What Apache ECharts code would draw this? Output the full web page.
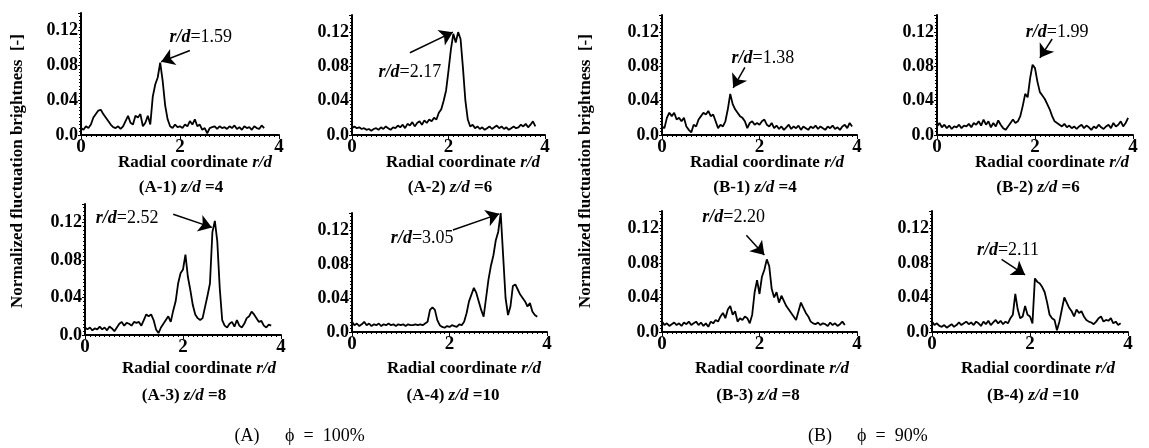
<!DOCTYPE html>
<html>
<head>
<meta charset="utf-8">
<script src="https://cdn.jsdelivr.net/npm/echarts@6/dist/echarts.min.js"></script>
<style>
  html, body { margin: 0; padding: 0; background: #fff; }
  #main { width: 1149px; height: 448px; }
</style>
</head>
<body>
<div id="main"></div>
<script>
// radial coordinate r/d (sampling positions)
var rd = [0.00,0.05,0.10,0.15,0.20,0.25,0.30,0.35,0.40,0.45,
          0.50,0.55,0.60,0.65,0.70,0.75,0.80,0.85,0.90,0.95,
          1.00,1.05,1.10,1.15,1.20,1.25,1.30,1.35,1.40,1.45,
          1.50,1.55,1.60,1.65,1.70,1.75,1.80,1.85,1.90,1.95,
          2.00,2.05,2.10,2.15,2.20,2.25,2.30,2.35,2.40,2.45,
          2.50,2.55,2.60,2.65,2.70,2.75,2.80,2.85,2.90,2.95,
          3.00,3.05,3.10,3.15,3.20,3.25,3.30,3.35,3.40,3.45,
          3.50,3.55,3.60,3.65,3.70,3.75,3.80,3.85,3.90];

// normalized fluctuation brightness, phi = 100%
var a1 = [0.008,0.006,0.010,0.008,0.012,0.020,0.024,0.028,0.029,0.024,
          0.020,0.016,0.012,0.009,0.008,0.010,0.007,0.010,0.016,0.022,
          0.014,0.012,0.022,0.020,0.024,0.010,0.014,0.022,0.012,0.044,
          0.058,0.066,0.083,0.062,0.034,0.018,0.010,0.008,0.012,0.009,
          0.010,0.008,0.012,0.010,0.016,0.012,0.018,0.010,0.012,0.006,
          0.008,0.002,0.008,0.009,0.010,0.007,0.010,0.008,0.009,0.007,
          0.010,0.008,0.011,0.007,0.009,0.006,0.010,0.008,0.009,0.006,
          0.010,0.008,0.007,0.011,0.008,null,null,null,null];
var a2 = [0.008,0.010,0.008,0.009,0.007,0.008,0.006,0.007,0.005,0.007,
          0.008,0.006,0.009,0.007,0.010,0.008,0.006,0.009,0.008,0.011,
          0.009,0.012,0.008,0.013,0.011,0.015,0.010,0.014,0.016,0.012,
          0.017,0.014,0.018,0.016,0.020,0.018,0.026,0.030,0.040,0.052,
          0.075,0.100,0.118,0.108,0.120,0.112,0.078,0.040,0.018,0.010,
          0.012,0.008,0.010,0.007,0.009,0.006,0.008,0.010,0.007,0.009,
          0.011,0.008,0.010,0.007,0.009,0.006,0.008,0.010,0.008,0.009,
          0.012,0.010,0.013,0.009,0.012,0.016,0.010,null,null];
var a3 = [0.008,0.006,0.008,0.005,0.007,0.006,0.009,0.006,0.008,0.005,
          0.009,0.007,0.004,0.008,0.012,0.014,0.010,0.013,0.012,0.010,
          0.014,0.013,0.014,0.010,0.016,0.022,0.020,0.022,0.016,0.006,
          0.002,0.008,0.012,0.016,0.020,0.014,0.026,0.036,0.055,0.066,
          0.070,0.086,0.062,0.048,0.032,0.022,0.018,0.016,0.018,0.030,
          0.042,0.055,0.110,0.122,0.100,0.050,0.016,0.010,0.008,0.012,
          0.014,0.009,0.016,0.010,0.008,0.012,0.018,0.020,0.025,0.022,
          0.018,0.014,0.015,0.010,0.008,0.011,0.010,null,null];
var a4 = [0.012,0.008,0.010,0.007,0.009,0.012,0.008,0.010,0.007,0.009,
          0.008,0.010,0.007,0.009,0.008,0.010,0.008,0.009,0.007,0.009,
          0.008,0.009,0.007,0.009,0.008,0.008,0.009,0.008,0.009,0.008,
          0.010,0.012,0.026,0.029,0.026,0.014,0.008,0.006,0.005,0.007,
          0.006,0.008,0.007,0.006,0.009,0.008,0.012,0.022,0.036,0.044,
          0.052,0.046,0.036,0.026,0.018,0.040,0.062,0.078,0.090,0.108,
          0.118,0.140,0.090,0.040,0.020,0.030,0.054,0.056,0.050,0.044,
          0.040,0.036,0.030,0.034,0.024,0.020,0.018,null,null];

// normalized fluctuation brightness, phi = 90%
var b1 = [0.010,0.008,0.020,0.026,0.022,0.026,0.018,0.020,0.016,0.020,
          0.010,0.006,0.003,0.012,0.010,0.018,0.022,0.026,0.024,0.028,
          0.022,0.024,0.016,0.008,0.012,0.010,0.016,0.030,0.048,0.036,
          0.030,0.026,0.022,0.020,0.016,0.008,0.014,0.016,0.012,0.014,
          0.012,0.016,0.018,0.012,0.010,0.014,0.008,0.011,0.007,0.010,
          0.006,0.009,0.012,0.007,0.010,0.008,0.011,0.006,0.010,0.008,
          0.006,0.010,0.008,0.011,0.007,0.010,0.008,0.006,0.010,0.008,
          0.011,0.007,0.009,0.006,0.010,0.012,0.008,0.014,0.010];
var b2 = [0.010,0.014,0.009,0.012,0.008,0.011,0.007,0.010,0.009,0.012,
          0.008,0.011,0.010,0.013,0.009,0.014,0.012,0.016,0.011,0.018,
          0.012,0.016,0.009,0.014,0.010,0.017,0.012,0.008,0.006,0.010,
          0.014,0.018,0.014,0.016,0.022,0.034,0.048,0.044,0.066,0.082,
          0.078,0.062,0.050,0.046,0.042,0.036,0.030,0.022,0.016,0.014,
          0.012,0.010,0.013,0.009,0.011,0.008,0.010,0.007,0.010,0.012,
          0.008,0.011,0.009,0.006,0.010,0.008,0.012,0.009,0.007,0.010,
          0.012,0.008,0.014,0.010,0.012,0.016,0.010,0.014,0.020];
var b3 = [0.012,0.008,0.010,0.007,0.009,0.011,0.008,0.010,0.007,0.011,
          0.009,0.012,0.008,0.010,0.012,0.008,0.011,0.007,0.010,0.006,
          0.012,0.010,0.014,0.012,0.018,0.022,0.016,0.026,0.030,0.020,
          0.024,0.012,0.016,0.014,0.018,0.016,0.010,0.020,0.046,0.060,
          0.044,0.064,0.072,0.084,0.076,0.050,0.040,0.046,0.034,0.042,
          0.036,0.030,0.026,0.022,0.018,0.014,0.024,0.034,0.028,0.022,
          0.018,0.012,0.010,0.009,0.011,0.008,0.010,0.009,0.007,0.011,
          0.008,0.010,0.007,0.009,0.012,0.008,null,null,null];
var b4 = [0.012,0.008,0.010,0.007,0.006,0.008,0.005,0.007,0.009,0.006,
          0.008,0.011,0.008,0.010,0.012,0.009,0.011,0.008,0.012,0.010,
          0.007,0.012,0.009,0.013,0.008,0.011,0.014,0.010,0.013,0.009,
          0.012,0.010,0.016,0.020,0.044,0.026,0.016,0.018,0.030,0.020,
          0.018,0.010,0.062,0.058,0.056,0.052,0.046,0.034,0.020,0.016,
          0.014,0.002,0.012,0.026,0.040,0.034,0.028,0.024,0.018,0.026,
          0.022,0.024,0.018,0.014,0.012,0.011,0.009,0.012,0.016,0.018,
          0.012,0.014,0.013,0.016,0.010,0.012,0.008,0.010,null];

var panelIds = ['A-1','A-2','A-3','A-4','B-1','B-2','B-3','B-4'];
var zd = [4, 6, 8, 10, 4, 6, 8, 10];
var curves = [a1, a2, a3, a4, b1, b2, b3, b4];
var peakText = ['1.59','2.17','2.52','3.05','1.38','1.99','2.20','2.11'];
// annotation anchors, in data units [r/d, brightness]
var labelAt   = [[2.42,0.112],[1.20,0.073],[0.86,0.125],[1.44,0.110],[2.07,0.090],[2.45,0.120],[1.47,0.133],[1.55,0.095]];
var arrowFrom = [[2.20,0.097],[1.20,0.096],[1.80,0.129],[2.07,0.120],[1.70,0.079],[2.35,0.112],[1.73,0.112],[1.42,0.084]];
var arrowTo   = [[1.62,0.084],[2.09,0.120],[2.59,0.115],[3.02,0.139],[1.46,0.055],[2.10,0.090],[2.10,0.089],[1.90,0.066]];

// layout in pixels: [left, top, width, height]
var boxes = [[81,13,198,122],[352,15,193,120],[85,204,196,131],[352,213,195,119],
             [662,15,195,120],[937,15,196,120],[662,211,195,121],[932,211,196,121]];
var nameX = [195, 463, 199, 464, 767, 1052, 772, 1038];
var capX  = [181, 450, 184, 453, 755, 1038, 758, 1033];

var serif = '"Liberation Serif", "DejaVu Serif", serif';
var ital = { fontStyle: 'italic', fontWeight: 'bold', fontFamily: serif, fontSize: 17, fill: '#000', color: '#000' };

var myChart = echarts.init(document.getElementById('main'));

var grids = [], xAxes = [], yAxes = [], series = [], graphics = [];
for (var i = 0; i < 8; i++) {
  var b = boxes[i];
  grids.push({ left: b[0], top: b[1], width: b[2], height: b[3], containLabel: false });
  xAxes.push({
    gridIndex: i, type: 'value', min: 0, max: 4, interval: 2,
    axisLine: { show: true, onZero: false, lineStyle: { color: '#000', width: 2 } },
    axisTick: { show: true, length: 4, lineStyle: { color: '#000', width: 1 } },
    minorTick: { show: true, splitNumber: 20, length: 2, lineStyle: { color: '#000' } },
    splitLine: { show: false },
    axisLabel: { color: '#000', fontFamily: serif, fontWeight: 'bold', fontSize: 19, margin: 3 }
  });
  yAxes.push({
    gridIndex: i, type: 'value', min: 0, max: 0.14, interval: 0.04,
    axisLine: { show: true, lineStyle: { color: '#000', width: 2 } },
    axisTick: { show: true, length: 3, lineStyle: { color: '#000' } },
    minorTick: { show: true, splitNumber: 10, length: 2, lineStyle: { color: '#000' } },
    splitLine: { show: false },
    axisLabel: {
      color: '#000', fontFamily: serif, fontWeight: 'bold', fontSize: 18, margin: 3,
      formatter: function (v) {
        if (v === 0) return '0.0';
        if (Math.abs(v - 0.14) < 1e-6) return '';
        return v.toFixed(2);
      }
    }
  });
  var pts = [];
  for (var k = 0; k < rd.length; k++) pts.push([rd[k], curves[i][k]]);
  series.push({
    type: 'line', xAxisIndex: i, yAxisIndex: i, data: pts,
    showSymbol: false, animation: false, silent: true,
    lineStyle: { color: '#000', width: 1.8 },
    markLine: {
      silent: true, animation: false,
      symbol: ['none', 'arrow'], symbolSize: 13,
      lineStyle: { color: '#000', width: 1.5, type: 'solid' },
      itemStyle: { color: '#000' },
      label: { show: false },
      data: [[{ coord: arrowFrom[i] }, { coord: arrowTo[i] }]]
    },
    markPoint: {
      silent: true, animation: false,
      symbol: 'circle', symbolSize: 1,
      itemStyle: { color: 'rgba(0,0,0,0)' },
      label: {
        show: true, position: 'inside', color: '#000',
        fontFamily: serif, fontSize: 18,
        formatter: '{i|r/d}=' + peakText[i],
        rich: { i: { fontStyle: 'italic', fontWeight: 'bold', fontFamily: serif, fontSize: 18, color: '#000' } }
      },
      data: [{ coord: labelAt[i] }]
    }
  });
  var bottomRow = (i % 4) >= 2;
  graphics.push({
    type: 'text', x: nameX[i], y: bottomRow ? 369 : 163,
    style: {
      text: 'Radial coordinate {i|r/d}', textAlign: 'center', textVerticalAlign: 'middle',
      font: 'bold 17px ' + serif, fill: '#000', rich: { i: ital }
    }
  });
  graphics.push({
    type: 'text', x: capX[i], y: bottomRow ? 396 : 188,
    style: {
      text: '(' + panelIds[i] + ') {i|z/d} =' + zd[i], textAlign: 'center', textVerticalAlign: 'middle',
      font: 'bold 17px ' + serif, fill: '#000', rich: { i: ital }
    }
  });
}

// vertical axis titles
[18, 586].forEach(function (x) {
  graphics.push({
    type: 'text', x: x, y: 171, rotation: Math.PI / 2,
    style: {
      text: 'Normalized fluctuation brightness  [-]', textAlign: 'center', textVerticalAlign: 'middle',
      font: 'bold 17px ' + serif, fill: '#000'
    }
  });
});

// figure captions
graphics.push({ type: 'text', x: 247, y: 436, style: { text: '(A)', textAlign: 'center', textVerticalAlign: 'middle', font: '18px ' + serif, fill: '#000' } });
graphics.push({ type: 'text', x: 285, y: 436, style: { text: '\u03D5  =  100%', textAlign: 'left', textVerticalAlign: 'middle', font: '18px ' + serif, fill: '#000' } });
graphics.push({ type: 'text', x: 820, y: 436, style: { text: '(B)', textAlign: 'center', textVerticalAlign: 'middle', font: '18px ' + serif, fill: '#000' } });
graphics.push({ type: 'text', x: 857, y: 436, style: { text: '\u03D5  =  90%', textAlign: 'left', textVerticalAlign: 'middle', font: '18px ' + serif, fill: '#000' } });

myChart.setOption({
  backgroundColor: '#fff',
  animation: false,
  grid: grids,
  xAxis: xAxes,
  yAxis: yAxes,
  series: series,
  graphic: graphics
});
</script>
</body>
</html>
